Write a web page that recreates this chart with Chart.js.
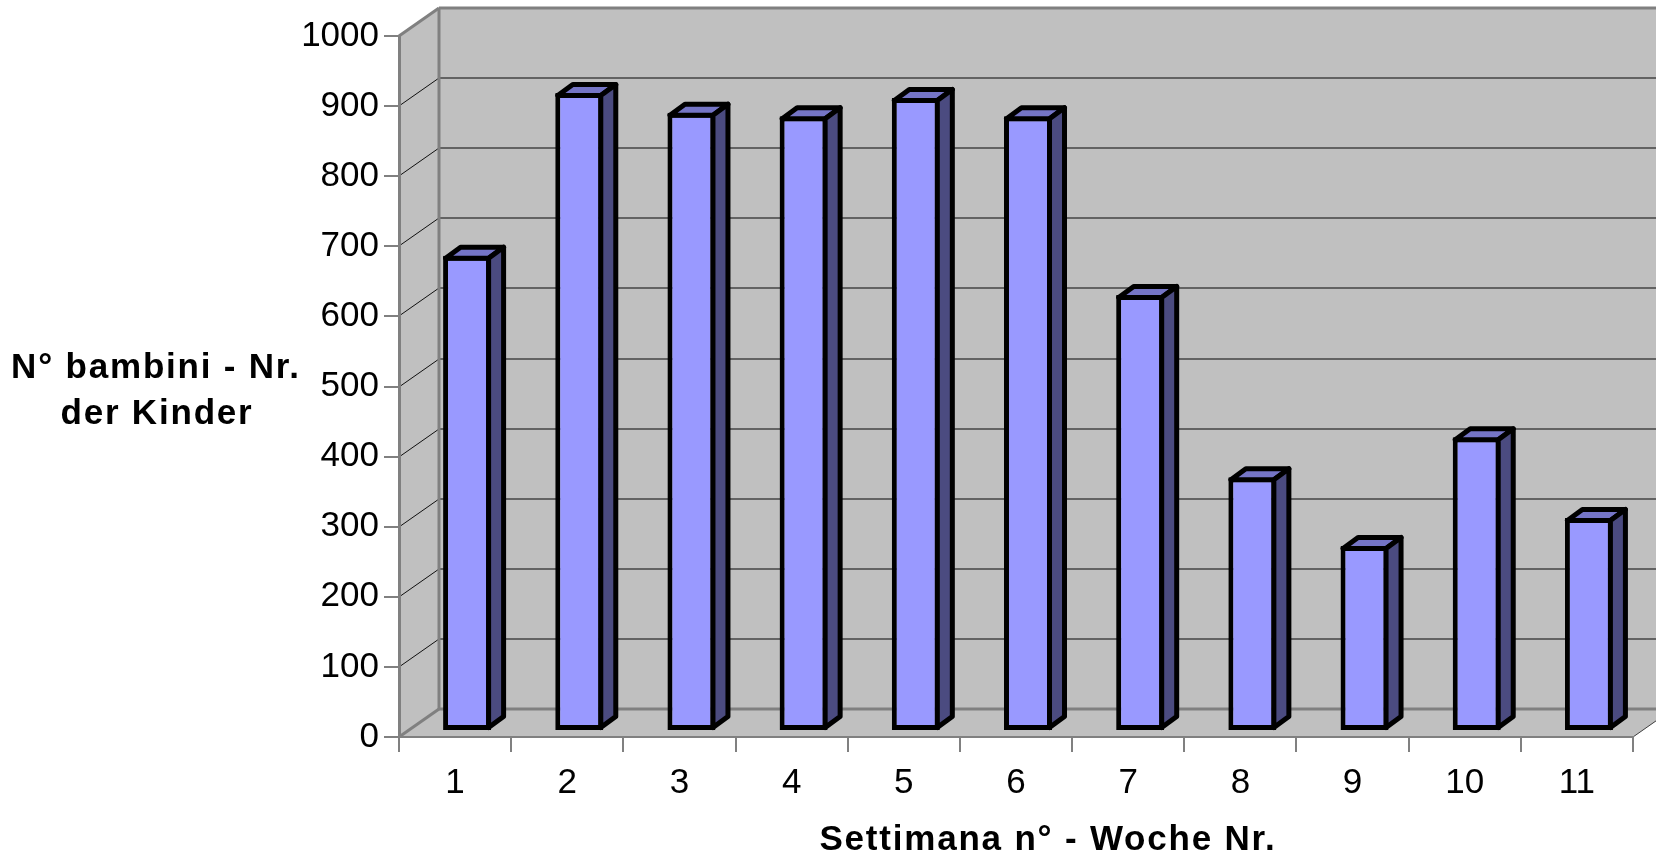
<!DOCTYPE html>
<html><head><meta charset="utf-8">
<script src="https://cdn.jsdelivr.net/npm/chart.js@4.4.1/dist/chart.umd.min.js"></script>
<style>html,body{margin:0;padding:0;background:#fff;overflow:hidden}#wrap{width:1656px;height:857px;position:relative}</style>
</head><body><div id="wrap"><canvas id="c" width="1656" height="857"></canvas></div>
<script>
// ---- data ----
const weeks = ['1', '2', '3', '4', '5', '6', '7', '8', '9', '10', '11'];
const children = [678, 910, 882, 877, 903, 877, 622, 362, 264, 419, 304];
const yMin = 0;
const yMax = 1000;
const yStep = 100;
const xTitle = 'Settimana n° - Woche Nr.';
const yTitleLines = ['N° bambini - Nr.', 'der Kinder'];

// ---- 3D look ----
const DX = 40, DY = 28;      // wall depth
const BX = 12, BY = 6;       // bar plane offset
const BDX = 15, BDY = 11;    // bar depth
const LW = 5;                // bar outline width

function poly(ctx, pts) {
  ctx.beginPath();
  ctx.moveTo(pts[0][0], pts[0][1]);
  for (let i = 1; i < pts.length; i++) ctx.lineTo(pts[i][0], pts[i][1]);
  ctx.closePath();
}
function line(ctx, x1, y1, x2, y2) {
  ctx.beginPath(); ctx.moveTo(x1, y1); ctx.lineTo(x2, y2); ctx.stroke();
}

const walls = {
  id: 'walls',
  beforeDraw(chart) {
    const {ctx, chartArea: a, scales: {y}} = chart;
    const L = a.left, R = a.right, T = a.top, B = a.bottom;
    ctx.save();
    ctx.fillStyle = '#c0c0c0';
    poly(ctx, [[L, B], [R, B], [R + DX, B - DY], [L + DX, B - DY]]); ctx.fill();
    poly(ctx, [[L, T], [L + DX, T - DY], [L + DX, B - DY], [L, B]]); ctx.fill();
    ctx.fillRect(L + DX, T - DY, R - L, B - T);
    // gridlines
    y.ticks.forEach(t => {
      if (t.value <= yMin || t.value >= yMax) return;
      const py = Math.round(y.getPixelForValue(t.value));
      ctx.strokeStyle = '#444';
      ctx.lineWidth = 1.6;
      line(ctx, L + DX, py - DY, R + DX, py - DY);
      ctx.strokeStyle = '#111';
      ctx.lineWidth = 1;
      line(ctx, L, py, L + DX, py - DY);
    });
    // edges
    ctx.strokeStyle = '#808080';
    ctx.lineWidth = 3;
    line(ctx, L + DX, T - DY, L + DX, B - DY);
    line(ctx, L + DX, T - DY, R + DX, T - DY);
    line(ctx, L + DX, B - DY, R + DX, B - DY);
    line(ctx, L, T, L + DX, T - DY);
    line(ctx, L, B, L + DX, B - DY);
    ctx.strokeStyle = '#404040';
    ctx.lineWidth = 1;
    line(ctx, R, B, R + DX, B - DY);
    ctx.restore();
  },
  beforeDatasetsDraw(chart) {
    chart.ctx.save();
    chart.ctx.translate(BX, -BY);
  },
  afterDatasetsDraw(chart) {
    const ctx = chart.ctx;
    const meta = chart.getDatasetMeta(0);
    const h = LW / 2;
    ctx.lineWidth = LW;
    ctx.lineJoin = 'round';
    ctx.strokeStyle = '#000';
    meta.data.forEach(el => {
      const {x, y, base, width} = el.getProps(['x', 'y', 'base', 'width'], true);
      const l = x - width / 2, r = x + width / 2;
      ctx.fillStyle = '#7575c6';
      poly(ctx, [[l + h, y + h], [r - h, y + h], [r + BDX - h, y - BDY + h], [l + BDX + h, y - BDY + h]]);
      ctx.fill(); ctx.stroke();
      ctx.fillStyle = '#4b4b80';
      poly(ctx, [[r - h, y + h], [r + BDX - h, y - BDY + h], [r + BDX - h, base - BDY - h], [r - h, base - h]]);
      ctx.fill(); ctx.stroke();
    });
    ctx.restore();
  },
  afterDraw(chart) {
    const ctx = chart.ctx;
    ctx.save();
    ctx.fillStyle = '#000';
    ctx.font = 'bold 35px "Liberation Sans", Arial, sans-serif';
    ctx.letterSpacing = '1.8px';
    ctx.textAlign = 'center';
    ctx.textBaseline = 'alphabetic';
    ctx.fillText(yTitleLines[0], 156, 378);
    ctx.fillText(yTitleLines[1], 157, 424);
    ctx.fillText(xTitle, 1048, 850);
    ctx.restore();
  }
};

new Chart(document.getElementById('c'), {
  type: 'bar',
  data: {
    labels: weeks,
    datasets: [{
      data: children,
      backgroundColor: '#9999ff',
      borderColor: '#000',
      borderWidth: LW,
      borderSkipped: false,
      barPercentage: 0.428,
      categoryPercentage: 1,
      clip: false
    }]
  },
  options: {
    responsive: false,
    animation: false,
    devicePixelRatio: 1,
    layout: {padding: {top: 36, right: 23, left: 0, bottom: 0}},
    plugins: {legend: {display: false}, tooltip: {enabled: false}, title: {display: false}},
    scales: {
      x: {
        type: 'category',
        offset: true,
        afterFit: s => { s.height = 120; },
        grid: {offset: true, drawOnChartArea: false, drawTicks: true, tickLength: 15, color: '#808080', lineWidth: 2},
        border: {color: '#808080', width: 2},
        ticks: {font: {family: '"Liberation Sans", Arial, sans-serif', size: 35}, color: '#000', padding: 10, maxRotation: 0, autoSkip: false}
      },
      y: {
        min: yMin, max: yMax,
        afterFit: s => { s.width = 399; },
        grid: {drawOnChartArea: false, drawTicks: true, tickLength: 15, color: '#808080', lineWidth: 2},
        border: {color: '#808080', width: 3},
        ticks: {stepSize: yStep, font: {family: '"Liberation Sans", Arial, sans-serif', size: 35}, color: '#000', padding: 5,
                callback: v => String(v)}
      }
    }
  },
  plugins: [walls]
});
</script></body></html>
